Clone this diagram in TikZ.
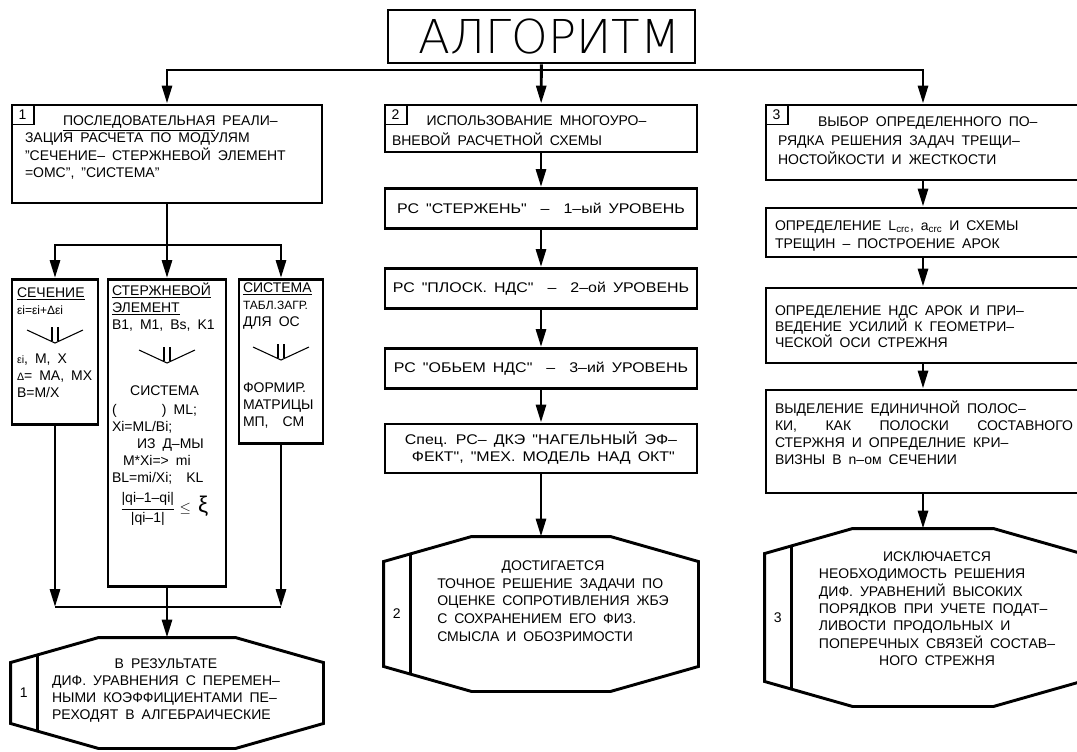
\documentclass[tikz,border=0pt]{standalone}
\usepackage{fontspec}
\setmainfont{Liberation Sans}
\newfontfamily\widefont[FakeStretch=1.14]{Liberation Sans}
\newfontfamily\thinfont{DejaVuSans-ExtraLight.ttf}
\usetikzlibrary{arrows.meta, positioning}
\newcommand{\cad}{\fontsize{10.5}{12.75}\selectfont\spaceskip=.5em plus .3em\relax}
\newcommand{\rows}[1]{\begin{tabular}[t]{@{}l@{}}#1\end{tabular}}
\newcommand{\crow}[1]{\multicolumn{1}{@{}c@{}}{#1}}
\newcommand{\vsign}[1]{%
  \draw[line width=.8pt] (#1) ++(-28,13) -- (#1) -- ++(28,13);
  \draw[line width=.8pt] (#1) ++(-3,2) -- ++(0,14) (#1) ++(3,2) -- ++(0,14);}
\newcommand{\hexframe}[1]{%
  \draw ([xshift=66pt]#1.north west) -- ([xshift=-66pt]#1.north east)
    -- ([yshift=-18.75pt]#1.north east) -- ([yshift=18.75pt]#1.south east)
    -- ([xshift=-66pt]#1.south east) -- ([xshift=66pt]#1.south west)
    -- ([yshift=18.75pt]#1.south west) -- ([yshift=-18.75pt]#1.north west) -- cycle;
  \draw ([shift={(20.25pt,-13pt)}]#1.north west) -- ([shift={(20.25pt,13pt)}]#1.south west);}
\tikzstyle{every node}=[font=\cad]
\tikzstyle{block}=[draw,rectangle,line width=2.2pt,inner sep=0pt]
\tikzstyle{outcome}=[rectangle,inner sep=0pt]
\tikzstyle{tag}=[draw,rectangle,line width=1pt,inner sep=0pt,minimum width=17pt,minimum height=15pt,anchor=north west]
\tikzstyle{txt}=[inner sep=0pt,anchor=base west]
\tikzstyle{ctxt}=[inner sep=0pt,anchor=base]

\begin{document}
\begin{tikzpicture}[x=.75pt,y=.75pt,line width=2.2pt,>={Triangle[length=13.5pt,width=7.5pt]}]
    \fill[white] (0,0) rectangle (1077,-751);
    \useasboundingbox (0,0) rectangle (1077,-751);
    \clip (0,0) rectangle (1077,-751);

    \node[block, minimum width=230.25pt, minimum height=39.75pt, font=\thinfont\fontsize{35}{35}\selectfont] (alg) at (541.5,-36.5) {\hspace*{12pt}АЛГОРИТМ};
    \coordinate (fork) at (541,-70);

    % column 1
    \node[block, minimum width=232.5pt, minimum height=73.5pt] (b1) at (167,-154) {};
    \node[tag] (tg1) at (b1.north west) {1};
    \node[txt] (b1t) at ([shift={(13,-22)}]b1.north west) {\rows{\hspace*{28.5pt}\underline{ПОСЛЕДОВАТЕЛЬНАЯ} РЕАЛИ–\\ ЗАЦИЯ РАСЧЕТА ПО МОДУЛЯМ\\ "СЕЧЕНИЕ– СТЕРЖНЕВОЙ ЭЛЕМЕНТ\\ =ОМС", "СИСТЕМА"}};
    \coordinate (split) at (167,-245);
    \node[block, minimum width=64.5pt, minimum height=108.75pt, anchor=north] (sec) at (55,-278) {};
    \node[block, minimum width=88.5pt, minimum height=230.25pt, anchor=north] (rod) at (167,-278) {};
    \node[block, minimum width=63pt, minimum height=123pt, anchor=north] (sys) at (281,-278) {};
    \node[txt] (seca) at ([shift={(5,-19)}]sec.north west) {\rows{\underline{СЕЧЕНИЕ}\\ {\fontsize{9}{10}\selectfont εi=εi+Δεi}}};
    \vsign{55,-343}
    \node[txt] (secb) at ([shift={(5,-85)}]sec.north west) {\rows{{\fontsize{8}{10}\selectfont εi},\ M,\ X\\ {\fontsize{8}{10}\selectfont Δ}= MA, MX\\ B=M/X}};
    \node[txt] (roda) at ([shift={(4,-17)}]rod.north west) {\rows{\underline{СТЕРЖНЕВОЙ}\\ \underline{ЭЛЕМЕНТ}\\ B1, M1, Bs, K1}};
    \vsign{167,-363}
    \node[txt] (rodb) at ([shift={(4,-117)}]rod.north west) {\rows{\crow{\hspace*{10pt}СИСТЕМА}\\[2pt] (\hspace{34pt}) ML;\\ Xi=ML/Bi;\\ \hspace*{18.75pt}ИЗ Д–МЫ\\ \hspace*{8.25pt}M*Xi=> mi\\ BL=mi/Xi;\ \ KL}};
    \node[inner sep=0pt, anchor=west] (frac) at ([shift={(12,-231)}]rod.north west) {$\displaystyle\frac{\mbox{|qi–1–qi|}}{\mbox{|qi–1|}}\leq$ {\fontsize{17}{17}\selectfont ξ}};
    \node[txt] (sysa) at ([shift={(4,-14)}]sys.north west) {\rows{\underline{СИСТЕМА}\\ {\fontsize{9}{12}\selectfont ТАБЛ.ЗАГР.}\\ ДЛЯ\ ОС}};
    \vsign{281,-360}
    \node[txt] (sysb) at ([shift={(4,-114)}]sys.north west) {\rows{ФОРМИР.\\ МАТРИЦЫ\\ МП,\ \ СМ}};
    \coordinate (m1) at (55,-607);
    \coordinate (m3) at (281,-607);
    \node[outcome, minimum width=232.5pt, minimum height=81pt] (h1) at (167,-693) {};
    \hexframe{h1}
    \node (n1) at ([xshift=10pt]h1.west) {1};
    \node[ctxt] (h1t) at ([shift={(-1,-31)}]h1.north) {\rows{\crow{В РЕЗУЛЬТАТЕ}\\ ДИФ. УРАВНЕНИЯ С ПЕРЕМЕН–\\ НЫМИ КОЭФФИЦИЕНТАМИ ПЕ–\\ РЕХОДЯТ В АЛГЕБРАИЧЕСКИЕ}};

    % column 2
    \node[block, minimum width=234pt, minimum height=35.25pt] (b2) at (541,-128.5) {};
    \node[tag] (tg2) at (b2.north west) {2};
    \node[txt] (b2t) at ([shift={(7,-22)}]b2.north west) {\rows{\hspace*{26pt}ИСПОЛЬЗОВАНИЕ МНОГОУРО–\\[1.5pt] ВНЕВОЙ РАСЧЕТНОЙ СХЕМЫ}};
    \node[block, minimum width=234pt, minimum height=30pt, below of=b2, node distance=60pt, font=\widefont\cad] (r1) {РС "СТЕРЖЕНЬ" \ – \ 1–ый УРОВЕНЬ};
    \node[block, minimum width=234pt, minimum height=30pt, below of=r1, node distance=60pt, font=\widefont\cad] (r2) {РС "ПЛОСК. НДС" \ – \ 2–ой УРОВЕНЬ};
    \node[block, minimum width=234pt, minimum height=30pt, below of=r2, node distance=60pt, font=\widefont\cad] (r3) {РС "ОБЬЕМ НДС" \ – \ 3–ий УРОВЕНЬ};
    \node[block, minimum width=234pt, minimum height=36.75pt, below of=r3, node distance=60pt, font=\widefont\cad, align=left] (r4) {Спец. РС– ДКЭ "НАГЕЛЬНЫЙ ЭФ–\\ \ ФЕКТ", "МЕХ. МОДЕЛЬ НАД ОКТ"};
    \node[outcome, minimum width=234pt, minimum height=114pt] (h2) at (541,-614) {};
    \hexframe{h2}
    \node (n2) at ([xshift=10pt]h2.west) {2};
    \node[ctxt] (h2t) at ([shift={(12,-34)}]h2.north) {\rows{\crow{ДОСТИГАЕТСЯ}\\[.5pt] ТОЧНОЕ РЕШЕНИЕ ЗАДАЧИ ПО\\[.5pt] ОЦЕНКЕ СОПРОТИВЛЕНИЯ ЖБЭ\\[.5pt] С СОХРАНЕНИЕМ ЕГО ФИЗ.\\[.5pt] СМЫСЛА И ОБОЗРИМОСТИ}};

    % column 3
    \node[block, minimum width=235.5pt, minimum height=56.25pt] (b3) at (923,-142.5) {};
    \node[tag] (tg3) at (b3.north west) {3};
    \node[txt] (b3t) at ([shift={(12,-23)}]b3.north west) {\rows{\hspace*{30pt}ВЫБОР ОПРЕДЕЛЕННОГО ПО–\\[1.1pt] РЯДКА РЕШЕНИЯ ЗАДАЧ ТРЕЩИ–\\[1.1pt] НОСТОЙКОСТИ И ЖЕСТКОСТИ}};
    \node[block, minimum width=235.5pt, minimum height=36.75pt, below of=b3, node distance=67.5pt] (c2) {};
    \node[txt] (c2t) at ([shift={(9,-24)}]c2.north west) {\rows{ОПРЕДЕЛЕНИЕ L\textsubscript{crc}, a\textsubscript{crc} И СХЕМЫ\\[.75pt] ТРЕЩИН – ПОСТРОЕНИЕ АРОК}};
    \node[block, minimum width=235.5pt, minimum height=56.25pt, below of=c2, node distance=69.75pt] (c3) {};
    \node[txt] (c3t) at ([shift={(9,-29)}]c3.north west) {\rows{ОПРЕДЕЛЕНИЕ НДС АРОК И ПРИ–\\[-1.5pt] ВЕДЕНИЕ УСИЛИЙ К ГЕОМЕТРИ–\\[-1.5pt] ЧЕСКОЙ ОСИ СТРЕЖНЯ}};
    \node[block, minimum width=235.5pt, minimum height=77.25pt, below of=c3, node distance=87pt] (c4) {};
    \node[txt] (c4t) at ([shift={(9,-25)}]c4.north west) {\rows{ВЫДЕЛЕНИЕ ЕДИНИЧНОЙ ПОЛОС–\\ \makebox[223.5pt][l]{КИ,\hfill КАК\hfill ПОЛОСКИ\hfill СОСТАВНОГО}\\ СТЕРЖНЯ И ОПРЕДЕЛНИЕ КРИ–\\ ВИЗНЫ В n–ом СЕЧЕНИИ}};
    \node[outcome, minimum width=235.5pt, minimum height=131.25pt] (h3) at (923,-617.5) {};
    \hexframe{h3}
    \node (n3) at ([xshift=10pt]h3.west) {3};
    \node[ctxt] (h3t) at ([shift={(14,-33)}]h3.north) {\rows{\crow{ИСКЛЮЧАЕТСЯ}\\ НЕОБХОДИМОСТЬ РЕШЕНИЯ\\ ДИФ. УРАВНЕНИЙ ВЫСОКИХ\\ ПОРЯДКОВ ПРИ УЧЕТЕ ПОДАТ–\\ ЛИВОСТИ ПРОДОЛЬНЫХ И\\ ПОПЕРЕЧНЫХ СВЯЗЕЙ СОСТАВ–\\ \crow{НОГО СТРЕЖНЯ}}};

    \draw[->] (alg) -- (b2);
    \draw[->] (fork) -| (b1);
    \draw[->] (fork) -| (b3);
    \draw (b1) -- (split);
    \draw[->] (split) -| (sec);
    \draw[->] (split) -- (rod);
    \draw[->] (split) -| (sys);
    \draw[->] (sec) -- (m1);
    \draw[->] (sys) -- (m3);
    \draw (m1) -- (m3);
    \draw[->] (rod) -- (h1);
    \draw[->] (b2) -- (r1);
    \draw[->] (r1) -- (r2);
    \draw[->] (r2) -- (r3);
    \draw[->] (r3) -- (r4);
    \draw[->] (r4) -- (h2);
    \draw[->] (b3) -- (c2);
    \draw[->] (c2) -- (c3);
    \draw[->] (c3) -- (c4);
    \draw[->] (c4) -- (h3);
\end{tikzpicture}
\end{document}
